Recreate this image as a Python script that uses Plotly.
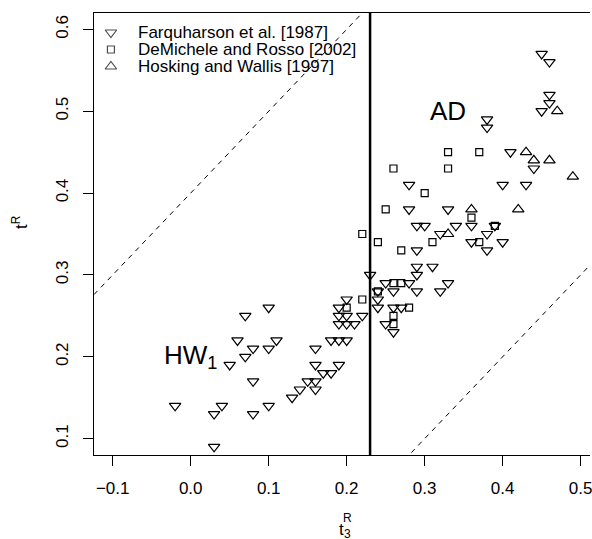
import plotly.graph_objects as go

# Farquharson et al. [1987]  (t3, t)
farq_t3 = [-0.02, 0.03, 0.04, 0.03, 0.08, 0.10, 0.08, 0.05, 0.07, 0.08,
           0.10, 0.06, 0.11, 0.07, 0.10, 0.13, 0.14, 0.16, 0.15, 0.16,
           0.17, 0.18, 0.16, 0.19, 0.16, 0.18, 0.19, 0.20, 0.19, 0.20,
           0.21, 0.19, 0.20, 0.22, 0.19, 0.20, 0.23, 0.24, 0.24, 0.24,
           0.25, 0.26, 0.26, 0.27, 0.26, 0.25, 0.28, 0.29, 0.29, 0.29,
           0.31, 0.32, 0.33, 0.29, 0.29, 0.30, 0.28, 0.28, 0.33, 0.32,
           0.34, 0.36, 0.36, 0.38, 0.38, 0.39, 0.40, 0.40, 0.43, 0.41,
           0.44, 0.38, 0.38, 0.45, 0.46, 0.46, 0.45, 0.46]
farq_t = [0.14, 0.13, 0.14, 0.09, 0.13, 0.14, 0.17, 0.19, 0.20, 0.21,
          0.21, 0.22, 0.22, 0.25, 0.26, 0.15, 0.16, 0.16, 0.17, 0.17,
          0.18, 0.18, 0.19, 0.19, 0.21, 0.22, 0.22, 0.22, 0.24, 0.24,
          0.24, 0.25, 0.25, 0.25, 0.26, 0.27, 0.30, 0.26, 0.27, 0.28,
          0.24, 0.23, 0.26, 0.26, 0.28, 0.29, 0.29, 0.28, 0.30, 0.31,
          0.31, 0.28, 0.29, 0.33, 0.36, 0.36, 0.38, 0.41, 0.38, 0.35,
          0.36, 0.36, 0.34, 0.33, 0.35, 0.36, 0.34, 0.41, 0.41, 0.45,
          0.43, 0.48, 0.49, 0.50, 0.51, 0.52, 0.57, 0.56]

# DeMichele and Rosso [2002]
demi_t3 = [0.22, 0.24, 0.25, 0.26, 0.27, 0.30, 0.31, 0.33, 0.33, 0.36,
           0.37, 0.37, 0.39, 0.26, 0.27, 0.24, 0.22, 0.20, 0.28, 0.26, 0.26]
demi_t = [0.35, 0.34, 0.38, 0.43, 0.33, 0.40, 0.34, 0.45, 0.43, 0.37,
          0.45, 0.34, 0.36, 0.29, 0.29, 0.28, 0.27, 0.26, 0.26, 0.25, 0.24]

# Hosking and Wallis [1997]
hosk_t3 = [0.47, 0.43, 0.44, 0.46, 0.49, 0.42, 0.36, 0.33]
hosk_t = [0.50, 0.45, 0.44, 0.44, 0.42, 0.38, 0.38, 0.35]

legend_labels = ["Farquharson et al. [1987]",
                 "DeMichele and Rosso [2002]",
                 "Hosking and Wallis [1997]"]

x_ticks = [-0.1, 0.0, 0.1, 0.2, 0.3, 0.4, 0.5]
x_tick_labels = ["\u22120.1", "0.0", "0.1", "0.2", "0.3", "0.4", "0.5"]
y_ticks = [0.1, 0.2, 0.3, 0.4, 0.5, 0.6]
y_tick_labels = ["0.1", "0.2", "0.3", "0.4", "0.5", "0.6"]

x_range = [-0.124, 0.512]
y_range = [0.08, 0.62]

# bounding lines t = t3 + c and the t3 split between the two regions
upper_offset = 0.4
lower_offset = -0.2
t3_split = 0.23

FONT = "Liberation Sans, Arial, Helvetica, sans-serif"
W, H = 592, 539
ML, MR, MT, MB = 94, 0, 13, 84

fig = go.Figure()

line_x = list(x_range)
for off in (upper_offset, lower_offset):
    fig.add_trace(go.Scatter(
        x=line_x, y=[v + off for v in line_x], mode="lines",
        line=dict(color="black", width=1, dash="5px,5px"),
        hoverinfo="skip", showlegend=False))

fig.add_trace(go.Scatter(
    x=[t3_split, t3_split], y=list(y_range), mode="lines",
    line=dict(color="black", width=2.5), hoverinfo="skip", showlegend=False))

series = [
    (farq_t3, farq_t, "triangle-down-open", 10),
    (demi_t3, demi_t, "square-open", 7),
    (hosk_t3, hosk_t, "triangle-up-open", 10),
]
for xs, ys, sym, sz in series:
    fig.add_trace(go.Scatter(
        x=xs, y=ys, mode="markers",
        marker=dict(symbol=sym, size=sz, color="black", line=dict(width=1.2)),
        showlegend=False))

# key drawn in pixel space on an overlay axis pair
plot_w = W - ML - MR
plot_h = H - MT - MB
key_sym_x = 111
key_text_x = 136
key_rows = [32.5, 49.5, 66.5]
fig.add_trace(go.Scatter(
    x=[key_sym_x - ML] * 3, y=[r - MT for r in key_rows],
    xaxis="x2", yaxis="y2", mode="markers",
    marker=dict(symbol=[s[2] for s in series], size=[s[3] for s in series],
                color="black", line=dict(width=1.2)),
    hoverinfo="skip", showlegend=False))
for label, r in zip(legend_labels, key_rows):
    fig.add_annotation(
        xref="x2", yref="y2", x=key_text_x - ML, y=r - MT, text=label,
        showarrow=False, xanchor="left", yanchor="middle",
        font=dict(family=FONT, size=17, color="black"))

# region labels
fig.add_annotation(x=0.33, y=0.50, text="AD", showarrow=False,
                   font=dict(family=FONT, size=26, color="black"))
fig.add_annotation(x=0.0, y=0.20, text="HW<sub>1</sub>", showarrow=False,
                   font=dict(family=FONT, size=26, color="black"))

# axis titles
fig.add_annotation(xref="paper", yref="paper", x=0.5, y=0, yshift=-74, xshift=-1,
                   text="t", showarrow=False, xanchor="center", yanchor="middle",
                   font=dict(family=FONT, size=17, color="black"))
fig.add_annotation(xref="paper", yref="paper", x=0.5, y=0, yshift=-63, xshift=5,
                   text="R", showarrow=False, xanchor="center", yanchor="middle",
                   font=dict(family=FONT, size=12, color="black"))
fig.add_annotation(xref="paper", yref="paper", x=0.5, y=0, yshift=-79, xshift=5,
                   text="3", showarrow=False, xanchor="center", yanchor="middle",
                   font=dict(family=FONT, size=12, color="black"))
fig.add_annotation(xref="paper", yref="paper", x=0, y=0.5, xshift=-74, yshift=12,
                   text="t<sup>R</sup>", showarrow=False, textangle=-90,
                   xanchor="center", yanchor="middle",
                   font=dict(family=FONT, size=17, color="black"))

axis_common = dict(
    showgrid=False, zeroline=False, showline=True, linecolor="black",
    linewidth=1, ticks="outside", ticklen=10, tickwidth=1, tickcolor="black",
    ticklabeloverflow="allow",
    tickfont=dict(family=FONT, size=17, color="black"))

fig.update_layout(
    width=W, height=H, margin=dict(l=ML, r=MR, t=MT, b=MB),
    paper_bgcolor="white", plot_bgcolor="white",
    xaxis=dict(range=x_range, tickvals=x_ticks, ticktext=x_tick_labels,
               mirror=True, ticklabelstandoff=8, **axis_common),
    yaxis=dict(range=y_range, tickvals=y_ticks, ticktext=y_tick_labels,
               tickangle=-90, ticklabelstandoff=8, **axis_common),
    xaxis2=dict(overlaying="x", range=[0, plot_w], visible=False),
    yaxis2=dict(overlaying="y", range=[plot_h, 0], visible=False),
    showlegend=False,
)

fig.write_html("out.html")
